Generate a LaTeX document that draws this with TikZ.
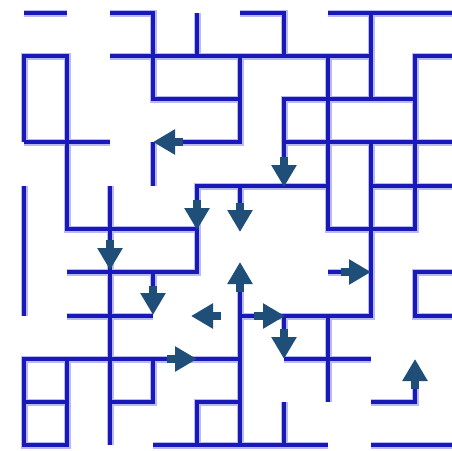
\documentclass[tikz,border=0pt]{standalone}
\usetikzlibrary{arrows.meta}
\definecolor{wallcore}{RGB}{25,25,185}
\definecolor{wallhalo}{RGB}{185,185,244}
\definecolor{arrowblue}{RGB}{31,78,121}
\newcommand\mazewalls[1]{%
  \draw[#1] (24,13)--(67,13);
  \draw[#1] (110,13)--(153,13)--(153,99)--(240,99);
  \draw[#1] (197,13)--(197,56);
  \draw[#1] (110,56)--(371,56);
  \draw[#1] (240,13)--(284,13)--(284,56);
  \draw[#1] (328,13)--(452,13);
  \draw[#1] (371,13)--(371,99);
  \draw[#1] (24,142)--(24,56)--(67,56)--(67,229)--(197,229);
  \draw[#1] (24,142)--(110,142);
  \draw[#1] (240,56)--(240,142)--(170,142);
  \draw[#1] (153,142)--(153,186);
  \draw[#1] (452,56)--(415,56)--(415,229)--(328,229)--(328,56);
  \draw[#1] (284,170)--(284,99)--(415,99);
  \draw[#1] (284,142)--(452,142);
  \draw[#1] (371,142)--(371,316)--(240,316);
  \draw[#1] (328,186)--(197,186)--(197,272)--(67,272);
  \draw[#1] (240,186)--(240,215);
  \draw[#1] (371,186)--(452,186);
  \draw[#1] (24,186)--(24,316);
  \draw[#1] (110,186)--(110,445);
  \draw[#1] (67,316)--(153,316);
  \draw[#1] (153,272)--(153,300);
  \draw[#1] (240,280)--(240,445);
  \draw[#1] (240,359)--(24,359)--(24,445)--(67,445)--(67,359);
  \draw[#1] (24,402)--(67,402);
  \draw[#1] (110,402)--(153,402)--(153,359);
  \draw[#1] (197,445)--(197,402)--(240,402);
  \draw[#1] (153,445)--(328,445);
  \draw[#1] (284,402)--(284,445);
  \draw[#1] (284,316)--(284,340);
  \draw[#1] (284,359)--(371,359);
  \draw[#1] (328,316)--(328,402);
  \draw[#1] (328,272)--(355,272);
  \draw[#1] (452,272)--(415,272)--(415,316)--(452,316);
  \draw[#1] (371,402)--(415,402)--(415,380);
  \draw[#1] (371,445)--(452,445);
}
\begin{document}
\begin{tikzpicture}[x=1pt,y=-1pt,
  halo/.style={draw=wallhalo,line width=7pt,line cap=butt,line join=miter},
  wall/.style={draw=wallcore,line width=4pt,line cap=butt,line join=miter},
  arr/.style={draw=arrowblue,line width=8pt,-{Triangle[length=22pt,width=24pt]}}]
\useasboundingbox[fill=white] (0,0) rectangle (452,450);
\mazewalls{halo}
\mazewalls{wall}
% arrows (tail -- tip)
\draw[arr] (183,142) -- (153,142);
\draw[arr] (197,200) -- (197,230);
\draw[arr] (240,203) -- (240,232);
\draw[arr] (284,157) -- (284,187);
\draw[arr] (110,240) -- (110,270);
\draw[arr] (153,286) -- (153,315);
\draw[arr] (240,292) -- (240,262);
\draw[arr] (221,316) -- (191,316);
\draw[arr] (254,316) -- (285,316);
\draw[arr] (341,272) -- (371,272);
\draw[arr] (284,329) -- (284,359);
\draw[arr] (167,359) -- (197,359);
\draw[arr] (415,389) -- (415,359);
\end{tikzpicture}
\end{document}
